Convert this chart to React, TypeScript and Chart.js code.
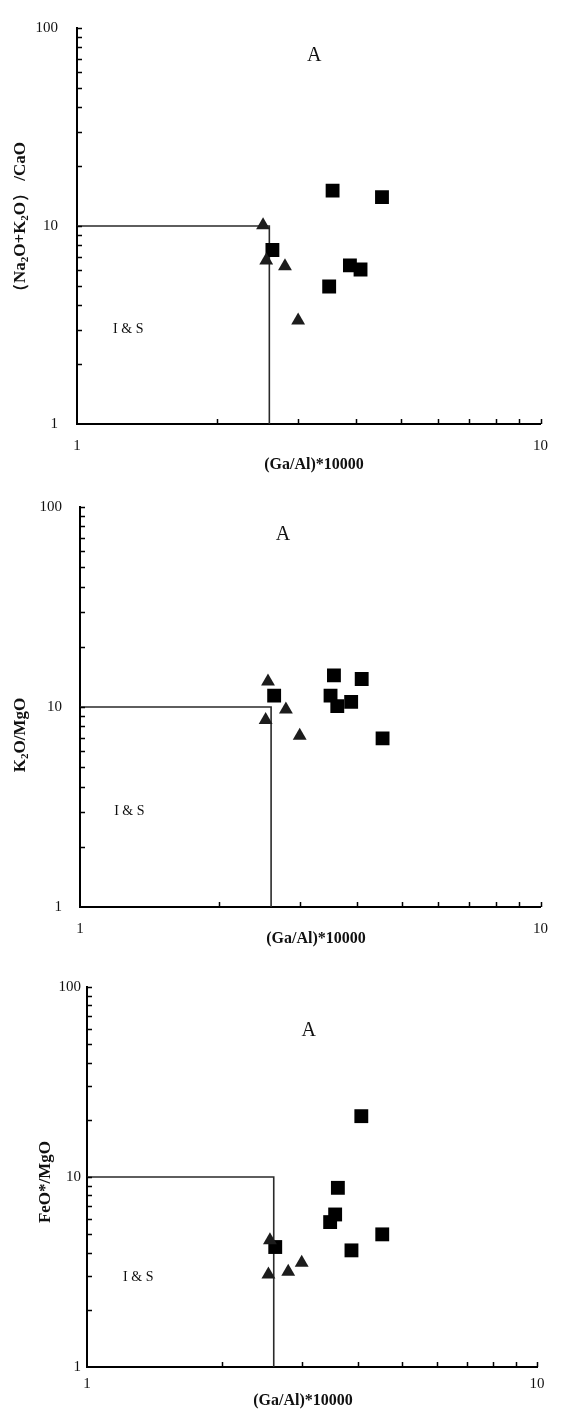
import React, { useEffect, useRef } from 'react';
import { Chart, registerables } from 'chart.js';

Chart.register(...registerables);

const SERIF = '"Liberation Serif", "Times New Roman", serif';

// ---- Data ----
// Panel 1: (Na2O+K2O)/CaO vs (Ga/Al)*10000
const p1TriX = [2.52, 2.56, 2.81, 3.0];
const p1TriY = [10.1, 6.7, 6.26, 3.33];
const p1SqX = [2.64, 3.56, 4.55, 3.88, 4.09, 3.5];
const p1SqY = [7.56, 15.1, 14.0, 6.33, 6.03, 4.95];

// Panel 2: K2O/MgO vs (Ga/Al)*10000
const p2TriX = [2.56, 2.53, 2.8, 3.0];
const p2TriY = [13.4, 8.61, 9.72, 7.18];
const p2SqX = [2.64, 3.56, 4.09, 3.5, 3.62, 3.88, 4.54];
const p2SqY = [11.4, 14.4, 13.8, 11.4, 10.1, 10.6, 6.97];

// Panel 3: FeO*/MgO vs (Ga/Al)*10000
const p3TriX = [2.55, 2.53, 2.8, 3.0];
const p3TriY = [4.64, 3.07, 3.17, 3.54];
const p3SqX = [2.62, 4.07, 3.61, 3.56, 3.47, 4.53, 3.87];
const p3SqY = [4.28, 20.9, 8.77, 6.35, 5.79, 4.99, 4.11];

// Boundary of the I & S field
const boundaryX = [1, 2.6, 2.6];
const boundaryY = [10, 10, 1];

// Labelled ticks
const xTickLabels = [1, 10];
const yTickLabels = [1, 10, 100];

const xTitle = '(Ga/Al)*10000';
const fieldA = 'A';
const fieldIS = 'I & S';

type Seg = { t: string; sub?: boolean };

interface PanelCfg {
  top: number;
  height: number;
  area: { left: number; right: number; top: number; bottom: number };
  triX: number[];
  triY: number[];
  sqX: number[];
  sqY: number[];
  yTitle: Seg[];
  yTitlePos: [number, number];
  xTitlePos: [number, number];
  aAt: [number, number];
  isAt: [number, number];
  yLabelPad: number;
  xLabelPad: number;
}

const panels: PanelCfg[] = [
  {
    top: 0,
    height: 480,
    area: { left: 77, right: 550, top: 18, bottom: 424 },
    triX: p1TriX, triY: p1TriY, sqX: p1SqX, sqY: p1SqY,
    yTitle: [
      { t: '（' }, { t: 'Na' }, { t: '2', sub: true }, { t: 'O+K' }, { t: '2', sub: true },
      { t: 'O' }, { t: '）' }, { t: ' /CaO' },
    ],
    yTitlePos: [21, 221],
    xTitlePos: [314, 465],
    aAt: [3.25, 72],
    isAt: [1.29, 3.0],
    yLabelPad: 19,
    xLabelPad: 13,
  },
  {
    top: 480,
    height: 480,
    area: { left: 80, right: 552, top: 22, bottom: 427 },
    triX: p2TriX, triY: p2TriY, sqX: p2SqX, sqY: p2SqY,
    yTitle: [{ t: 'K' }, { t: '2', sub: true }, { t: 'O/MgO' }],
    yTitlePos: [21, 255],
    xTitlePos: [316, 459],
    aAt: [2.76, 73],
    isAt: [1.28, 3.0],
    yLabelPad: 18,
    xLabelPad: 13,
  },
  {
    top: 960,
    height: 449,
    area: { left: 87, right: 537, top: 27, bottom: 407 },
    triX: p3TriX, triY: p3TriY, sqX: p3SqX, sqY: p3SqY,
    yTitle: [{ t: 'FeO*/MgO' }],
    yTitlePos: [46, 222],
    xTitlePos: [303, 441],
    aAt: [3.11, 59],
    isAt: [1.3, 2.95],
    yLabelPad: 6,
    xLabelPad: 8,
  },
];

// only integer multiples 2..9 of a power of ten get a minor tick mark
function isDecadeStep(v: number) {
  if (v <= 1) return false;
  const p = Math.pow(10, Math.floor(Math.log10(v) + 1e-9));
  const k = v / p;
  return Math.abs(k - Math.round(k)) < 1e-6;
}

function makeDecor(cfg: PanelCfg) {
  return {
    id: 'decor',
    afterDraw(chart: any) {
      const ctx: CanvasRenderingContext2D = chart.ctx;
      const xs = chart.scales.x;
      const ys = chart.scales.y;
      const ca = chart.chartArea;
      ctx.save();
      // inward tick marks
      ctx.strokeStyle = '#000';
      ctx.lineWidth = 1.5;
      ctx.beginPath();
      ys.ticks.forEach((tk: any) => {
        if (!isDecadeStep(tk.value)) return;
        const y = Math.round(ys.getPixelForValue(tk.value)) + 0.5;
        ctx.moveTo(ca.left, y);
        ctx.lineTo(ca.left + 5, y);
      });
      xs.ticks.forEach((tk: any) => {
        if (!isDecadeStep(tk.value)) return;
        const x = Math.round(xs.getPixelForValue(tk.value)) + 0.5;
        ctx.moveTo(x, ca.bottom);
        ctx.lineTo(x, ca.bottom - 5);
      });
      ctx.stroke();

      ctx.fillStyle = '#111';
      // field labels
      ctx.textAlign = 'center';
      ctx.textBaseline = 'middle';
      ctx.font = `20px ${SERIF}`;
      ctx.fillText(fieldA, xs.getPixelForValue(cfg.aAt[0]), ys.getPixelForValue(cfg.aAt[1]));
      ctx.font = `14px ${SERIF}`;
      ctx.fillText(fieldIS, xs.getPixelForValue(cfg.isAt[0]), ys.getPixelForValue(cfg.isAt[1]));

      // x title
      ctx.font = `bold 16px ${SERIF}`;
      ctx.fillText(xTitle, cfg.xTitlePos[0], cfg.xTitlePos[1]);

      // y title (rotated, with subscripts)
      const mainFont = `bold 17px ${SERIF}`;
      const subFont = `bold 11px ${SERIF}`;
      ctx.translate(cfg.yTitlePos[0], cfg.yTitlePos[1]);
      ctx.rotate(-Math.PI / 2);
      let total = 0;
      cfg.yTitle.forEach((s) => {
        ctx.font = s.sub ? subFont : mainFont;
        total += ctx.measureText(s.t).width;
      });
      let x = -total / 2;
      ctx.textAlign = 'left';
      cfg.yTitle.forEach((s) => {
        ctx.font = s.sub ? subFont : mainFont;
        ctx.fillText(s.t, x, s.sub ? 4 : 0);
        x += ctx.measureText(s.t).width;
      });
      ctx.restore();
    },
  };
}

function Panel({ cfg }: { cfg: PanelCfg }) {
  const ref = useRef<HTMLCanvasElement | null>(null);
  useEffect(() => {
    if (!ref.current) return;
    const tri = cfg.triX.map((v, i) => ({ x: v, y: cfg.triY[i] }));
    const sq = cfg.sqX.map((v, i) => ({ x: v, y: cfg.sqY[i] }));
    const bnd = boundaryX.map((v, i) => ({ x: v, y: boundaryY[i] }));
    const chart = new Chart(ref.current, {
      type: 'scatter',
      data: {
        datasets: [
          {
            label: 'triangles',
            data: tri,
            pointStyle: 'triangle',
            pointRadius: 8,
            pointHoverRadius: 8,
            backgroundColor: '#1c1c1c',
            borderColor: '#1c1c1c',
            borderWidth: 0,
          },
          {
            label: 'squares',
            data: sq,
            pointStyle: 'rect',
            pointRadius: 9.8,
            pointHoverRadius: 9.8,
            backgroundColor: '#000',
            borderColor: '#000',
            borderWidth: 0,
          },
          {
            label: 'boundary',
            data: bnd,
            showLine: true,
            pointRadius: 0,
            borderColor: '#2a2a2a',
            borderWidth: 1.6,
            fill: false,
          } as any,
        ],
      },
      options: {
        animation: false,
        responsive: false,
        devicePixelRatio: 1,
        events: [],
        layout: {
          padding: {
            left: 0,
            top: cfg.area.top,
            right: 561 - cfg.area.right,
            bottom: 0,
          },
        },
        plugins: {
          legend: { display: false },
          tooltip: { enabled: false },
          title: { display: false },
        },
        scales: {
          x: {
            type: 'logarithmic',
            min: 1,
            max: 10,
            grid: { display: false, drawTicks: false },
            border: { display: true, color: '#000', width: 2 },
            ticks: {
              autoSkip: false,
              maxRotation: 0,
              minRotation: 0,
              padding: cfg.xLabelPad,
              color: '#111',
              font: { family: SERIF, size: 15 },
              callback: (v: any) => (xTickLabels.includes(Number(v)) ? String(v) : ''),
            },
            afterFit: (s: any) => {
              s.height = cfg.height - cfg.area.bottom;
            },
          },
          y: {
            type: 'logarithmic',
            min: 1,
            max: 100,
            grid: { display: false, drawTicks: false },
            border: { display: true, color: '#000', width: 2 },
            ticks: {
              autoSkip: false,
              padding: cfg.yLabelPad,
              color: '#111',
              font: { family: SERIF, size: 15 },
              callback: (v: any) => (yTickLabels.includes(Number(v)) ? String(v) : ''),
            },
            afterFit: (s: any) => {
              s.width = cfg.area.left;
            },
          },
        },
      },
      plugins: [makeDecor(cfg)],
    } as any);
    return () => chart.destroy();
  }, [cfg]);
  return (
    <canvas
      ref={ref}
      width={561}
      height={cfg.height}
      style={{ position: 'absolute', left: 0, top: cfg.top, width: 561, height: cfg.height }}
    />
  );
}

export default function App() {
  return (
    <div
      style={{
        position: 'absolute',
        left: 0,
        top: 0,
        width: 561,
        height: 1409,
        background: '#fff',
        overflow: 'hidden',
      }}
    >
      {panels.map((p, i) => (
        <Panel key={i} cfg={p} />
      ))}
    </div>
  );
}
